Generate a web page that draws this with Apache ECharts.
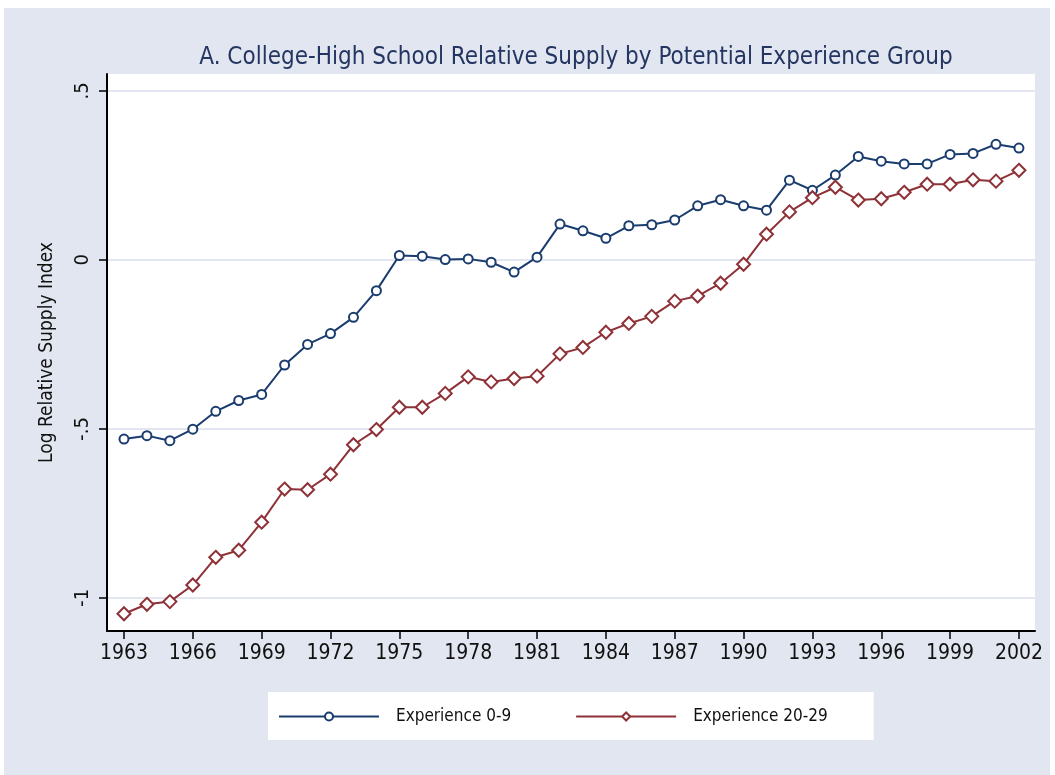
<!DOCTYPE html>
<html>
<head>
<meta charset="utf-8">
<script src="https://cdn.jsdelivr.net/npm/echarts@6/dist/echarts.min.js"></script>
<style>
  html, body { margin: 0; padding: 0; background: #ffffff; }
  #chart { position: absolute; left: 4px; top: 8px; width: 1046px; height: 767px; }
</style>
</head>
<body>
<div id="chart"></div>
<script>
var years = [];
for (var y = 1963; y <= 2002; y++) years.push(y);

var exp09 = [
  -0.530, -0.520, -0.535, -0.501, -0.448, -0.416, -0.398, -0.311, -0.250, -0.218,
  -0.170, -0.091, 0.013, 0.011, 0.001, 0.003, -0.007, -0.036, 0.008, 0.106,
  0.086, 0.064, 0.101, 0.104, 0.118, 0.160, 0.178, 0.160, 0.147, 0.236,
  0.206, 0.251, 0.306, 0.292, 0.284, 0.284, 0.312, 0.315, 0.342, 0.331
];
var exp2029 = [
  -1.047, -1.019, -1.011, -0.962, -0.880, -0.859, -0.776, -0.678, -0.680, -0.634,
  -0.547, -0.502, -0.436, -0.436, -0.395, -0.346, -0.361, -0.351, -0.344, -0.278,
  -0.259, -0.214, -0.188, -0.167, -0.122, -0.107, -0.069, -0.013, 0.076, 0.142,
  0.184, 0.215, 0.177, 0.181, 0.200, 0.224, 0.224, 0.237, 0.233, 0.265
];
var xTicks = [1963, 1966, 1969, 1972, 1975, 1978, 1981, 1984, 1987, 1990, 1993, 1996, 1999, 2002];
var yTicks = [-1, -0.5, 0, 0.5];

var font = "'Liberation Sans Narrow', 'DejaVu Sans Condensed', 'Liberation Sans', sans-serif";
var navy = '#1a3c6e';
var maroon = '#8e3238';

function pairs(vals) {
  return vals.map(function (v, i) { return [years[i], v]; });
}
function fmtY(v) {
  if (v === 0) return '0';
  return String(v).replace('0.', '.');
}

var chart = echarts.init(document.getElementById('chart'));

var options = {
  backgroundColor: '#e1e6f0',
  animation: false,
  textStyle: { fontFamily: font },
  title: {
    text: 'A. College-High School Relative Supply by Potential Experience Group',
    left: 567,
    top: 33,
    textAlign: 'center',
    textStyle: { fontFamily: font, fontSize: 24, fontWeight: 'normal', color: '#233560' }
  },
  grid: {
    left: 103,
    right: 15,
    top: 66,
    bottom: 144,
    show: true,
    backgroundColor: '#ffffff',
    borderWidth: 0
  },
  legend: {
    left: 264,
    top: 684,
    backgroundColor: '#ffffff',
    padding: [16, 46, 15, 10],
    itemWidth: 100,
    itemHeight: 10,
    itemGap: 64,
    textStyle: { fontFamily: font, fontSize: 17, color: '#111111', padding: [0, 0, 0, 12] },
    data: ['Experience 0-9', 'Experience 20-29']
  },
  xAxis: {
    type: 'value',
    min: 1962.26,
    max: 2002.7,
    axisLine: { show: true, onZero: false, lineStyle: { color: '#000000', width: 2 } },
    axisTick: { show: true, customValues: xTicks, length: 8, lineStyle: { color: '#000000', width: 1.5 } },
    axisLabel: {
      customValues: xTicks, margin: 12, fontSize: 21, color: '#111111', fontFamily: font,
      formatter: function (v) { return String(v); }
    },
    splitLine: { show: false }
  },
  yAxis: {
    type: 'value',
    min: -1.098,
    max: 0.55,
    name: 'Log Relative Supply Index',
    nameLocation: 'middle',
    nameGap: 50,
    nameTextStyle: { fontFamily: font, fontSize: 19, color: '#111111' },
    axisLine: { show: true, onZero: false, lineStyle: { color: '#000000', width: 2 } },
    axisTick: { show: true, customValues: yTicks, length: 8, lineStyle: { color: '#000000', width: 1.5 } },
    axisLabel: {
      customValues: yTicks, rotate: 90, margin: 14, fontSize: 20, color: '#111111',
      fontFamily: font, formatter: fmtY
    },
    splitLine: { show: true, lineStyle: { color: '#e1e6f0', width: 2 } }
  },
  series: [
    {
      name: 'Experience 0-9',
      type: 'line',
      data: pairs(exp09),
      symbol: 'circle',
      symbolSize: 9,
      showAllSymbol: true,
      lineStyle: { color: navy, width: 2 },
      itemStyle: { color: '#ffffff', borderColor: navy, borderWidth: 2 }
    },
    {
      name: 'Experience 20-29',
      type: 'line',
      data: pairs(exp2029),
      symbol: 'diamond',
      symbolSize: 13,
      showAllSymbol: true,
      lineStyle: { color: maroon, width: 2 },
      itemStyle: { color: '#ffffff', borderColor: maroon, borderWidth: 2 }
    }
  ]
};

chart.setOption(options);
</script>
</body>
</html>
